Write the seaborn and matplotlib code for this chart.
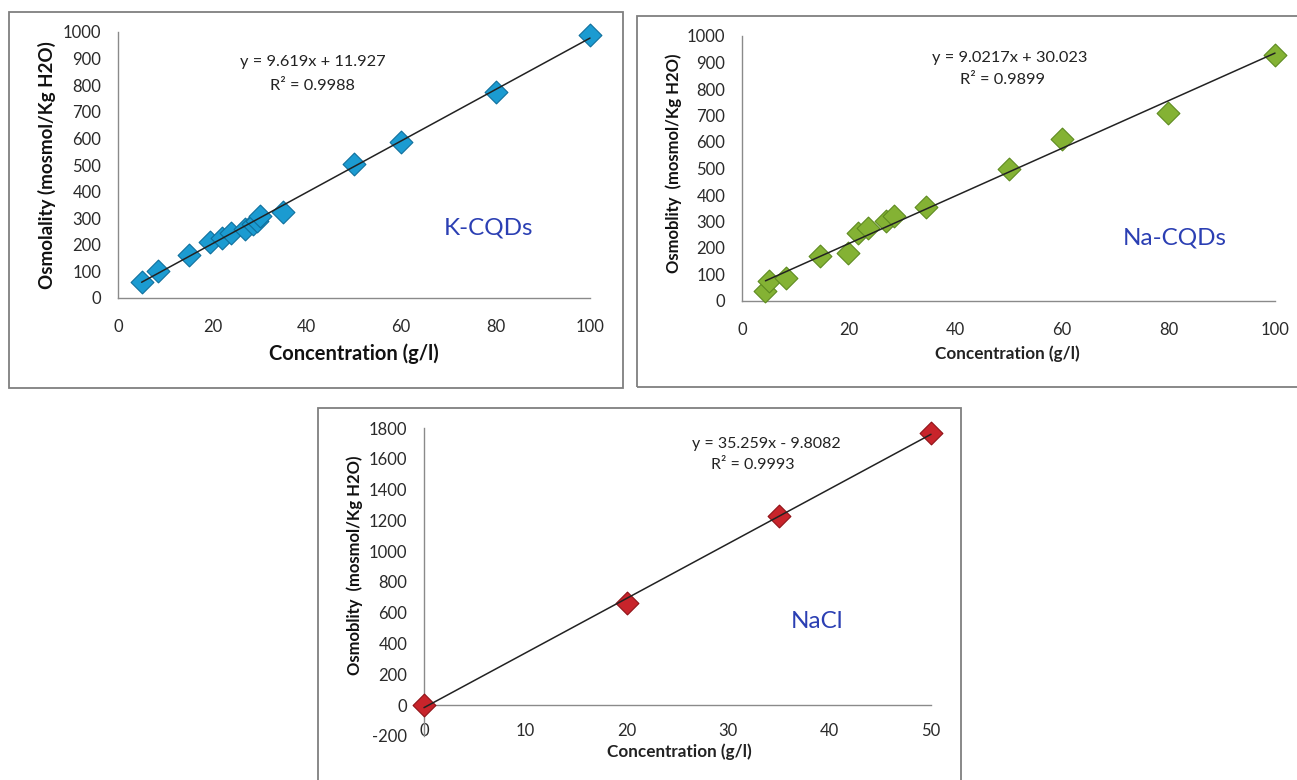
import numpy as np
import pandas as pd
import matplotlib
matplotlib.use("Agg")
import matplotlib.pyplot as plt
from matplotlib.patches import Rectangle
import seaborn as sns

# ---------------- data ----------------
k_conc = [5, 8.5, 15, 19.5, 22, 24, 27, 28.5, 29.5, 30, 35, 50, 60, 80, 100]
k_osm = [60, 103, 160, 210, 225, 245, 260, 280, 290, 310, 325, 505, 585, 775, 990]

na_conc = [4.4, 5, 8.3, 14.7, 19.8, 21.8, 23.7, 27.1, 28.6, 34.5, 50, 60, 80, 100]
na_osm = [38, 75, 88, 169, 182, 257, 276, 301, 320, 355, 499, 611, 709, 928]

nacl_conc = [0, 20, 35, 50]
nacl_osm = [0, 666, 1230, 1768]

k_xticks = [0, 20, 40, 60, 80, 100]
k_yticks = [0, 100, 200, 300, 400, 500, 600, 700, 800, 900, 1000]
na_xticks = [0, 20, 40, 60, 80, 100]
na_yticks = [0, 100, 200, 300, 400, 500, 600, 700, 800, 900, 1000]
nacl_xticks = [0, 10, 20, 30, 40, 50]
nacl_yticks = [-200, 0, 200, 400, 600, 800, 1000, 1200, 1400, 1600, 1800]

k_eq = ["y = 9.619x + 11.927", "R² = 0.9988"]
na_eq = ["y = 9.0217x + 30.023", "R² = 0.9899"]
nacl_eq = ["y = 35.259x - 9.8082", "R² = 0.9993"]

# ---------------- style ----------------
sns.set_style("white")
plt.rcParams["font.family"] = ["Lato", "DejaVu Sans"]
plt.rcParams["axes.unicode_minus"] = False

W, H = 1297, 780
fig = plt.figure(figsize=(W / 100, H / 100), dpi=100)

def fx(px):
    return px / W

def fy(py):
    return 1 - py / H

border_col = "#7f7f7f"
# panel frames
for (x0, y0, x1, y1) in [(9, 12, 623, 388), (637, 16, 1310, 387), (318, 408, 961, 795)]:
    fig.patches.append(Rectangle((fx(x0), fy(y1)), fx(x1) - fx(x0), fy(y0) - fy(y1),
                                 transform=fig.transFigure, fill=False,
                                 edgecolor=border_col, linewidth=1.3, zorder=0))

def make_ax(left, right, top, bottom):
    return fig.add_axes([fx(left), fy(bottom), fx(right) - fx(left), fy(top) - fy(bottom)])

def style_ax(ax, xt, yt, xlim, ylim, xpad=15, ypad=11, fs=10):
    ax.set_xlim(*xlim)
    ax.set_ylim(*ylim)
    ax.set_xticks(xt)
    ax.set_yticks(yt)
    sns.despine(ax=ax)
    for s in ["left", "bottom"]:
        ax.spines[s].set_color("#8a8a8a")
        ax.spines[s].set_linewidth(1.0)
    ax.tick_params(axis="x", length=0, pad=xpad, labelsize=fs, colors="#2a2a2a")
    ax.tick_params(axis="y", length=0, pad=ypad, labelsize=fs, colors="#2a2a2a")
    ax.set_xlabel("")
    ax.set_ylabel("")
    ax.patch.set_alpha(0)

def draw(ax, x, y, face, edge):
    df = pd.DataFrame({"x": x, "y": y})
    sns.regplot(data=df, x="x", y="y", ax=ax, ci=None, marker="D", truncate=True,
                scatter_kws=dict(s=135, facecolor=face, edgecolor=edge, linewidths=0.8,
                                 alpha=1, zorder=3, clip_on=False),
                line_kws=dict(color="#222222", linewidth=1.1, zorder=4, clip_on=False))

# ---- K-CQDs ----
ax1 = make_ax(118, 590, 32, 298)
draw(ax1, k_conc, k_osm, "#1b9bd1", "#0f6f9c")
style_ax(ax1, k_xticks, k_yticks, (0, 100), (0, 1000), xpad=15, ypad=12, fs=12)
fig.text(fx(313), fy(62), k_eq[0], ha="center", va="center", fontsize=11.8, color="#222222")
fig.text(fx(312), fy(86), k_eq[1], ha="center", va="center", fontsize=11.8, color="#222222")
fig.text(fx(488), fy(228), "K-CQDs", ha="center", va="center", fontsize=17.5, color="#2b3fb3")
fig.text(fx(47), fy(165), "Osmolality (mosmol/Kg H2O)", ha="center", va="center",
         rotation=90, fontsize=13.5, fontweight="bold", color="#111111")
fig.text(fx(354), fy(354), "Concentration (g/l)", ha="center", va="center",
         fontsize=14.5, fontweight="bold", color="#111111")

# ---- Na-CQDs ----
ax2 = make_ax(742, 1275, 36, 301)
draw(ax2, na_conc, na_osm, "#84b234", "#5d8a1f")
style_ax(ax2, na_xticks, na_yticks, (0, 100), (0, 1000), xpad=15, ypad=12, fs=12)
fig.text(fx(1010), fy(58), na_eq[0], ha="center", va="center", fontsize=11.8, color="#222222")
fig.text(fx(1003), fy(80), na_eq[1], ha="center", va="center", fontsize=11.8, color="#222222")
fig.text(fx(1175), fy(238), "Na-CQDs", ha="center", va="center", fontsize=17.5, color="#2b3fb3")
fig.text(fx(674), fy(163), "Osmoblity  (mosmol/Kg H2O)", ha="center", va="center",
         rotation=90, fontsize=12, fontweight="bold", color="#111111")
fig.text(fx(1007), fy(354), "Concentration (g/l)", ha="center", va="center",
         fontsize=12.3, fontweight="bold", color="#222222")

# ---- NaCl ----
ax3 = make_ax(424, 931, 428, 736)
draw(ax3, nacl_conc, nacl_osm, "#c8242b", "#8e1116")
style_ax(ax3, nacl_xticks, nacl_yticks, (0, 50), (-200, 1800), xpad=13, ypad=12, fs=12)
ax3.spines["bottom"].set_position(("data", 0))
fig.text(fx(766), fy(444), nacl_eq[0], ha="center", va="center", fontsize=11.5, color="#222222")
fig.text(fx(753), fy(465), nacl_eq[1], ha="center", va="center", fontsize=11.5, color="#222222")
fig.text(fx(817), fy(622), "NaCl", ha="center", va="center", fontsize=17.5, color="#2b3fb3")
fig.text(fx(355), fy(565), "Osmoblity  (mosmol/Kg H2O)", ha="center", va="center",
         rotation=90, fontsize=12, fontweight="bold", color="#111111")
fig.text(fx(679), fy(752), "Concentration (g/l)", ha="center", va="center",
         fontsize=12.3, fontweight="bold", color="#222222")

fig.savefig("out.png", dpi=100, facecolor="white")
